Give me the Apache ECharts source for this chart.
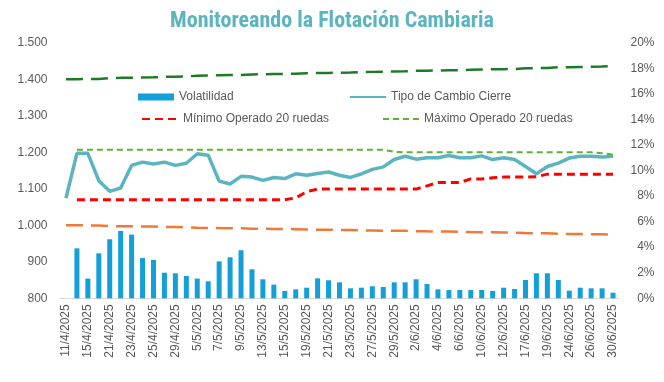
<!DOCTYPE html>
<html>
<head>
<meta charset="utf-8">
<script src="https://cdn.jsdelivr.net/npm/echarts@6/dist/echarts.min.js"></script>
<style>html,body{margin:0;padding:0;background:#fff}#c{width:664px;height:382px}</style>
</head>
<body>
<div id="c"></div>
<script>
const categories = ["11/4/2025","14/4/2025","15/4/2025","16/4/2025","21/4/2025","22/4/2025","23/4/2025","24/4/2025","25/4/2025","28/4/2025","29/4/2025","30/4/2025","5/5/2025","6/5/2025","7/5/2025","8/5/2025","9/5/2025","12/5/2025","13/5/2025","14/5/2025","15/5/2025","16/5/2025","19/5/2025","20/5/2025","21/5/2025","22/5/2025","23/5/2025","26/5/2025","27/5/2025","28/5/2025","29/5/2025","30/5/2025","2/6/2025","3/6/2025","4/6/2025","5/6/2025","6/6/2025","9/6/2025","10/6/2025","11/6/2025","12/6/2025","13/6/2025","17/6/2025","18/6/2025","19/6/2025","23/6/2025","24/6/2025","25/6/2025","26/6/2025","27/6/2025","30/6/2025"];
const volatilidad = [null,3.91,1.54,3.52,4.62,5.27,4.98,3.15,3.0,2.0,1.96,1.75,1.54,1.33,2.89,3.21,3.76,2.27,1.49,1.07,0.57,0.70,0.83,1.56,1.41,1.25,0.78,0.83,0.94,0.89,1.25,1.25,1.49,1.12,0.70,0.65,0.65,0.65,0.65,0.57,0.83,0.73,1.43,1.96,1.96,1.43,0.60,0.83,0.78,0.78,0.44];
const tipoCambio = [1074,1197,1197,1122,1093,1102,1164,1173,1168,1173,1164,1170,1196,1192,1121,1113,1134,1132,1123,1131,1128,1141,1137,1142,1146,1137,1131,1141,1153,1160,1180,1189,1181,1185,1185,1191,1185,1185,1190,1180,1185,1180,1161,1141,1161,1170,1184,1189,1189,1187,1189];
const minimo20 = [null,1070,1070,1070,1070,1070,1070,1070,1070,1070,1070,1070,1070,1070,1070,1070,1070,1070,1070,1070,1070,1075,1092,1099,1099,1099,1099,1099,1099,1099,1099,1099,1099,1108,1117,1117,1117,1127,1127,1130,1132,1132,1132,1133,1140,1140,1140,1140,1140,1140,1140];
const maximo20 = [null,1207,1207,1207,1207,1207,1207,1207,1207,1207,1207,1207,1207,1207,1207,1207,1207,1207,1207,1207,1207,1207,1207,1207,1207,1207,1207,1207,1207,1207,1201,1200,1200,1200,1200,1200,1200,1200,1200,1200,1200,1200,1200,1200,1200,1200,1200,1200,1200,1197,1194];
const bandaSuperior = [1400,1400,1400.5,1400.9,1403.3,1403.7,1404.2,1404.7,1405.1,1406.5,1407.0,1407.5,1409.8,1410.3,1410.7,1411.2,1411.7,1413.1,1413.5,1414.0,1414.5,1414.9,1416.3,1416.8,1417.3,1417.7,1418.2,1419.6,1420.1,1420.5,1421.0,1421.5,1422.9,1423.3,1423.8,1424.3,1424.7,1426.1,1426.6,1427.1,1427.5,1428.0,1429.9,1430.3,1430.8,1432.7,1433.1,1433.6,1434.1,1434.5,1435.9];
const bandaInferior = [1000,1000,999.7,999.3,997.7,997.3,997.0,996.7,996.3,995.3,995.0,994.7,993.0,992.7,992.3,992.0,991.7,990.7,990.3,990.0,989.7,989.3,988.3,988.0,987.7,987.3,987.0,986.0,985.7,985.3,985.0,984.7,983.7,983.3,983.0,982.7,982.3,981.3,981.0,980.7,980.3,980.0,978.7,978.3,978.0,976.7,976.3,976.0,975.7,975.3,974.3];

const gray = '#595959';
const font = 'Liberation Sans, Arial, sans-serif';
const chart = echarts.init(document.getElementById('c'), null, {renderer: 'canvas'});
const legendBase = {orient: 'horizontal', itemWidth: 36, itemGap: 8, textStyle: {color: gray, fontSize: 12, fontFamily: font}, selectedMode: false};
const lineLegend = {itemHeight: 1, itemStyle: {opacity: 0}};
chart.setOption({
  animation: false,
  backgroundColor: '#ffffff',
  title: {text: 'Monitoreando la Flotación Cambiaria', left: 'center', top: 5,
    textStyle: {color: '#5BB5C0', fontSize: 22, fontWeight: 'bold', fontFamily: 'Liberation Sans Narrow, Roboto Condensed, sans-serif'}},
  legend: [
    Object.assign({}, legendBase, {data: [{name: 'Volatilidad', icon: 'rect'}], left: 133, top: 86, itemHeight: 7}),
    Object.assign({}, legendBase, lineLegend, {data: ['Tipo de Cambio Cierre'], left: 344, top: 86}),
    Object.assign({}, legendBase, lineLegend, {data: ['Mínimo Operado 20 ruedas'], left: 136, top: 108}),
    Object.assign({}, legendBase, lineLegend, {data: ['Máximo Operado 20 ruedas'], left: 377, top: 108})
  ],
  grid: {left: 60.5, right: 45.5, top: 42.7, bottom: 83.7},
  xAxis: {
    type: 'category', data: categories, boundaryGap: true,
    axisLine: {lineStyle: {color: '#D9D9D9', width: 1}},
    axisTick: {show: false},
    axisLabel: {rotate: 90, interval: 1, color: gray, fontSize: 12, fontFamily: font, margin: 6}
  },
  yAxis: [
    {type: 'value', min: 800, max: 1500, interval: 100, splitLine: {show: false},
     axisLine: {show: false}, axisTick: {show: false},
     axisLabel: {color: gray, fontSize: 12, fontFamily: font, margin: 13,
       formatter: v => v >= 1000 ? (Math.floor(v/1000) + '.' + String(v%1000).padStart(3,'0')) : String(v)}},
    {type: 'value', min: 0, max: 20, interval: 2, splitLine: {show: false},
     axisLine: {show: false}, axisTick: {show: false},
     axisLabel: {color: gray, fontSize: 12, fontFamily: font, margin: 36, align: 'right', formatter: '{value}%'}}
  ],
  series: [
    {name: 'Volatilidad', type: 'bar', yAxisIndex: 1, data: volatilidad, barWidth: 5,
     itemStyle: {color: '#129FDA'}},
    {name: 'Tipo de Cambio Cierre', type: 'line', data: tipoCambio, symbol: 'none',
     lineStyle: {color: '#5BB5C0', width: 3.5}, itemStyle: {color: '#5BB5C0'}},
    {name: 'Mínimo Operado 20 ruedas', type: 'line', data: minimo20, symbol: 'none',
     lineStyle: {color: '#FF0000', width: 3, type: [8, 5]}, itemStyle: {color: '#FF0000'}},
    {name: 'Máximo Operado 20 ruedas', type: 'line', data: maximo20, symbol: 'none',
     lineStyle: {color: '#5DB233', width: 2, type: [6, 4]}, itemStyle: {color: '#5DB233'}},
    {name: 'Banda Superior', type: 'line', data: bandaSuperior, symbol: 'none',
     lineStyle: {color: '#1E7B25', width: 2.5, type: [17, 8]}, itemStyle: {color: '#1E7B25'}},
    {name: 'Banda Inferior', type: 'line', data: bandaInferior, symbol: 'none',
     lineStyle: {color: '#F07838', width: 2.5, type: [17, 8]}, itemStyle: {color: '#F07838'}}
  ]
});
</script>
</body>
</html>
